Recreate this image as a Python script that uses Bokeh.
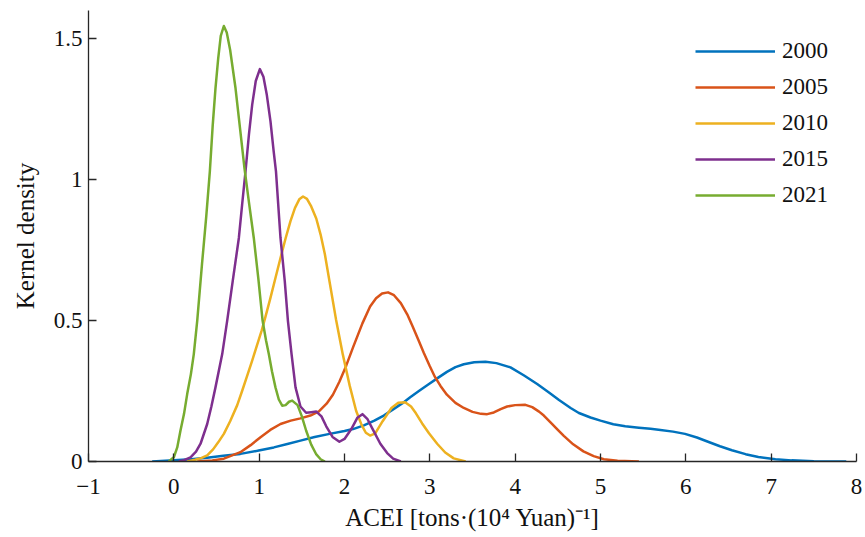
from bokeh.plotting import figure
from bokeh.models import FixedTicker, Legend, LegendItem, Range1d
from bokeh.embed import file_html
from bokeh.resources import INLINE

# ---- data ----
years = ["2000", "2005", "2010", "2015", "2021"]
colors = ["#0072BD", "#D95319", "#EDB120", "#7E2F8E", "#77AC30"]

x_2000 = [-0.254, 0.0, 0.2, 0.39, 0.58, 0.78, 0.98, 1.172, 1.33, 1.484, 1.65, 1.825, 2.0, 2.1, 2.227, 2.35,
          2.46, 2.57, 2.68, 2.77, 2.88, 2.99, 3.086, 3.2, 3.3, 3.398, 3.52, 3.652, 3.78, 3.945, 4.1, 4.258,
          4.4, 4.514, 4.65, 4.747, 4.883, 5.0, 5.15, 5.29, 5.45, 5.586, 5.68, 5.85, 5.99, 6.13, 6.26, 6.4,
          6.54, 6.7, 6.85, 7.05, 7.24, 7.5, 7.88]
y_2000 = [0.0, 0.004, 0.008, 0.013, 0.02, 0.027, 0.038, 0.05, 0.062, 0.074, 0.087, 0.098, 0.108, 0.115, 0.128, 0.145,
          0.163, 0.185, 0.207, 0.228, 0.252, 0.275, 0.295, 0.318, 0.335, 0.345, 0.352, 0.354, 0.349, 0.334, 0.306, 0.275,
          0.244, 0.218, 0.19, 0.172, 0.156, 0.145, 0.132, 0.125, 0.12, 0.116, 0.113, 0.106, 0.098, 0.085, 0.07, 0.054,
          0.04, 0.026, 0.016, 0.008, 0.004, 0.001, 0.0]

x_2005 = [0.274, 0.45, 0.586, 0.78, 0.9, 1.016, 1.13, 1.25, 1.37, 1.484, 1.6, 1.7, 1.79, 1.864, 1.94, 2.02,
          2.1, 2.21, 2.3, 2.37, 2.44, 2.51, 2.58, 2.66, 2.735, 2.8, 2.87, 2.93, 3.0, 3.06, 3.125, 3.2,
          3.3, 3.398, 3.5, 3.6, 3.672, 3.75, 3.83, 3.906, 4.0, 4.12, 4.2, 4.28, 4.336, 4.42, 4.5, 4.57,
          4.68, 4.8, 4.92, 5.04, 5.2, 5.45]
y_2005 = [0.0, 0.004, 0.01, 0.033, 0.058, 0.086, 0.112, 0.133, 0.145, 0.153, 0.163, 0.178, 0.205, 0.237, 0.283, 0.34,
          0.405, 0.49, 0.55, 0.579, 0.596, 0.6, 0.59, 0.562, 0.522, 0.478, 0.428, 0.385, 0.338, 0.3, 0.268, 0.237,
          0.208, 0.19, 0.176, 0.169, 0.168, 0.174, 0.186, 0.195, 0.2, 0.201, 0.193, 0.177, 0.163, 0.137, 0.112, 0.091,
          0.061, 0.036, 0.019, 0.008, 0.003, 0.0]

x_2010 = [0.157, 0.25, 0.32, 0.391, 0.46, 0.52, 0.586, 0.66, 0.743, 0.8, 0.86, 0.92, 0.977, 1.03, 1.075, 1.13,
          1.19, 1.25, 1.31, 1.367, 1.42, 1.47, 1.514, 1.56, 1.61, 1.669, 1.72, 1.77, 1.825, 1.9, 1.98, 2.06,
          2.136, 2.2, 2.25, 2.3, 2.36, 2.447, 2.55, 2.63, 2.71, 2.78, 2.837, 2.91, 2.99, 3.086, 3.18, 3.28, 3.42]
y_2010 = [0.0, 0.006, 0.012, 0.022, 0.043, 0.068, 0.098, 0.143, 0.2, 0.25, 0.305, 0.36, 0.415, 0.465, 0.515, 0.578,
          0.65, 0.722, 0.792, 0.853, 0.9, 0.93, 0.94, 0.932, 0.905, 0.862, 0.805, 0.735, 0.638, 0.505, 0.38, 0.27,
          0.18, 0.13, 0.102, 0.092, 0.1, 0.143, 0.19, 0.208, 0.21, 0.195, 0.171, 0.135, 0.1, 0.063, 0.032, 0.011, 0.0]

x_2015 = [0.058, 0.12, 0.195, 0.26, 0.313, 0.391, 0.44, 0.488, 0.567, 0.625, 0.69, 0.762, 0.8, 0.84, 0.88, 0.918,
          0.96, 1.008, 1.05, 1.09, 1.133, 1.17, 1.197, 1.25, 1.3, 1.337, 1.38, 1.426, 1.484, 1.55, 1.61, 1.67,
          1.73, 1.786, 1.86, 1.94, 2.0, 2.08, 2.15, 2.21, 2.27, 2.33, 2.42, 2.5, 2.57, 2.66]
y_2015 = [0.0, 0.005, 0.015, 0.035, 0.063, 0.133, 0.195, 0.263, 0.381, 0.499, 0.64, 0.793, 0.91, 1.029, 1.16, 1.265,
          1.35, 1.392, 1.365, 1.3, 1.206, 1.1, 1.029, 0.793, 0.64, 0.499, 0.38, 0.263, 0.195, 0.173, 0.175, 0.177,
          0.16, 0.125, 0.087, 0.07, 0.08, 0.115, 0.155, 0.168, 0.15, 0.115, 0.063, 0.03, 0.01, 0.0]

x_2021 = [-0.06, 0.0, 0.04, 0.078, 0.12, 0.157, 0.2, 0.234, 0.274, 0.33, 0.38, 0.422, 0.455, 0.488, 0.52, 0.55,
          0.586, 0.62, 0.66, 0.723, 0.78, 0.828, 0.88, 0.937, 0.99, 1.04, 1.08, 1.113, 1.15, 1.191, 1.23, 1.27,
          1.31, 1.35, 1.387, 1.45, 1.5, 1.55, 1.61, 1.67, 1.72, 1.77]
y_2021 = [0.0, 0.015, 0.05, 0.11, 0.17, 0.24, 0.31, 0.381, 0.499, 0.7, 0.87, 1.029, 1.19, 1.324, 1.43, 1.51,
          1.545, 1.522, 1.46, 1.324, 1.17, 1.04, 0.92, 0.793, 0.65, 0.5, 0.43, 0.381, 0.32, 0.263, 0.22, 0.198,
          0.2, 0.212, 0.216, 0.2, 0.16, 0.11, 0.06, 0.025, 0.008, 0.0]

series_x = [x_2000, x_2005, x_2010, x_2015, x_2021]
series_y = [y_2000, y_2005, y_2010, y_2015, y_2021]

x_ticks = [-1, 0, 1, 2, 3, 4, 5, 6, 7, 8]
x_tick_labels = ["\u22121", "0", "1", "2", "3", "4", "5", "6", "7", "8"]
y_ticks = [0, 0.5, 1, 1.5]
y_tick_labels = ["0", "0.5", "1", "1.5"]

x_label = "ACEI [tons\u00b7(10\u2074 Yuan)\u207b\u00b9]"
y_label = "Kernel density"

FONT = "Liberation Serif"
AX = "#262626"
TXT = "#111111"

p = figure(width=865, height=537, output_backend="svg", toolbar_location=None,
           x_range=Range1d(-1, 8), y_range=Range1d(0, 1.6),
           min_border_left=88, min_border_right=9, min_border_top=10, min_border_bottom=76)
p.outline_line_color = None
p.xgrid.visible = False
p.ygrid.visible = False

renderers = []
for xs, ys, c in zip(series_x, series_y, colors):
    r = p.line(xs, ys, line_color=c, line_width=2.5, line_join="round")
    renderers.append(r)

for ax in (p.xaxis[0], p.yaxis[0]):
    ax.axis_line_color = AX
    ax.axis_line_width = 1.3
    ax.major_tick_line_color = AX
    ax.major_tick_line_width = 1.3
    ax.major_tick_in = 8
    ax.major_tick_out = 0
    ax.minor_tick_line_color = None
    ax.major_label_text_font = FONT
    ax.major_label_text_font_size = "23px"
    ax.major_label_text_color = TXT
    ax.axis_label_text_font = FONT
    ax.axis_label_text_font_size = "25px"
    ax.axis_label_text_font_style = "normal"
    ax.axis_label_text_color = TXT

p.xaxis.ticker = FixedTicker(ticks=x_ticks)
p.xaxis.major_label_overrides = {t: l for t, l in zip(x_ticks, x_tick_labels)}
p.yaxis.ticker = FixedTicker(ticks=y_ticks)
p.yaxis.major_label_overrides = {t: l for t, l in zip(y_ticks, y_tick_labels)}
p.xaxis.axis_label = x_label
p.yaxis.axis_label = y_label
p.xaxis.major_label_standoff = 17
p.yaxis.major_label_standoff = 6
p.xaxis.axis_label_standoff = 7
p.yaxis.axis_label_standoff = 12

legend = Legend(items=[LegendItem(label=yr, renderers=[r]) for yr, r in zip(years, renderers)],
                location=(607, 253))
legend.glyph_width = 80
legend.glyph_height = 20
legend.label_height = 20
legend.spacing = 10
legend.padding = 0
legend.margin = 0
legend.label_standoff = 7
legend.label_text_font = FONT
legend.label_text_font_size = "23px"
legend.label_text_color = TXT
legend.background_fill_alpha = 0
legend.border_line_alpha = 0
p.add_layout(legend)

open("out.html", "w").write(file_html(p, INLINE))
